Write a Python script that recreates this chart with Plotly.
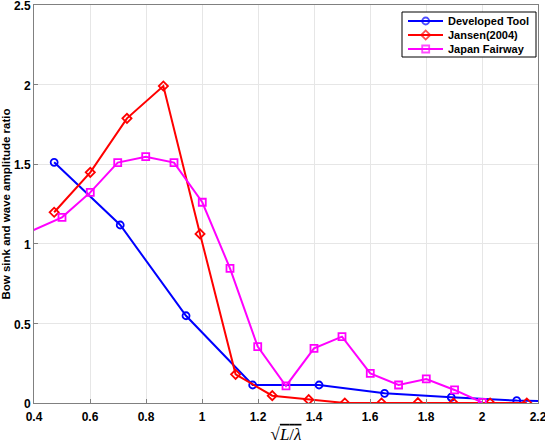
import plotly.graph_objects as go

# Developed Tool
dev_x = [0.472, 0.708, 0.943, 1.181, 1.418, 1.652, 1.890, 2.124, 2.36]
dev_y = [1.512, 1.118, 0.548, 0.113, 0.113, 0.061, 0.036, 0.015, 0.005]

# Jansen(2004)
jan_x = [0.472, 0.601, 0.732, 0.862, 0.993, 1.120, 1.251, 1.381, 1.510, 1.641, 1.771, 1.898, 2.029, 2.160]
jan_y = [1.198, 1.449, 1.788, 1.991, 1.062, 0.180, 0.046, 0.021, 0.0, 0.0, 0.002, 0.0, 0.0, 0.0]

# Japan Fairway
jf_x = [0.30, 0.500, 0.601, 0.699, 0.799, 0.900, 1.001, 1.100, 1.199, 1.300, 1.400, 1.500, 1.601, 1.702, 1.801, 1.902, 2.001]
jf_y = [1.01, 1.166, 1.323, 1.510, 1.547, 1.510, 1.261, 0.846, 0.354, 0.107, 0.343, 0.417, 0.186, 0.113, 0.151, 0.082, 0.003]

series_names = ["Developed Tool", "Jansen(2004)", "Japan Fairway"]
series_colors = ["#0000ff", "#ff0000", "#ff00ff"]
series_symbols = ["circle-open", "diamond-open", "square-open"]

x_ticks = [0.4, 0.6, 0.8, 1.0, 1.2, 1.4, 1.6, 1.8, 2.0, 2.2]
x_labels = ["0.4", "0.6", "0.8", "1", "1.2", "1.4", "1.6", "1.8", "2", "2.2"]
y_ticks = [0, 0.5, 1.0, 1.5, 2.0, 2.5]
y_labels = ["0", "0.5", "1", "1.5", "2", "2.5"]

fig = go.Figure()
for xs, ys, nm, col, sym in zip([dev_x, jan_x, jf_x], [dev_y, jan_y, jf_y],
                                series_names, series_colors, series_symbols):
    fig.add_trace(go.Scatter(x=xs, y=ys, name=nm, mode="lines+markers", showlegend=False,
                             line=dict(color=col, width=2),
                             marker=dict(symbol=sym, size=7, color=col, line=dict(width=1.8))))

# Legend box drawn on an overlay axis measured in pixels of the plot area
LX0, LX1, LY0, LY1 = 402, 536, 12, 57
fig.add_trace(go.Scatter(x=[LX0, LX1, LX1, LX0, LX0], y=[LY0, LY0, LY1, LY1, LY0],
                         xaxis="x2", yaxis="y2", mode="lines", fill="toself",
                         fillcolor="white", line=dict(color="black", width=1),
                         showlegend=False, hoverinfo="skip"))
row_y = [21, 35, 49]
for ry, nm, col, sym in zip(row_y, series_names, series_colors, series_symbols):
    fig.add_trace(go.Scatter(x=[408, 425.7, 443], y=[ry, ry, ry], xaxis="x2", yaxis="y2",
                             mode="lines+markers", showlegend=False, hoverinfo="skip",
                             line=dict(color=col, width=2),
                             marker=dict(symbol=sym, size=[0, 7, 0], color=col, line=dict(width=1.8))))
    fig.add_annotation(x=446, y=ry, xref="x2", yref="y2", text="<b>%s</b>" % nm,
                       showarrow=False, xanchor="left", yanchor="middle",
                       font=dict(size=11, family="Liberation Sans, Arial, sans-serif", color="black"))

fig.update_layout(
    width=545, height=444,
    margin=dict(l=34, r=7, t=5, b=41),
    paper_bgcolor="white", plot_bgcolor="white",
    font=dict(family="Liberation Sans, Arial, sans-serif", size=11, color="black"),
    showlegend=False,
    xaxis=dict(range=[0.4, 2.2], tickvals=x_ticks, ticktext=["<b>%s</b>" % t for t in x_labels],
               showgrid=True, gridcolor="#e6e6e6", gridwidth=1, automargin=False,
               showline=True, linecolor="#808080", linewidth=1, mirror=True,
               ticks="inside", ticklen=4, tickcolor="#808080", zeroline=False,
               tickfont=dict(size=12), ticklabeloverflow="allow", ticklabelstandoff=3,
               title=dict(text="√<span style='text-decoration:overline'><i>L</i>/<i>λ</i></span>",
                          font=dict(family="Liberation Serif, Times New Roman, serif", size=17),
                          standoff=4)),
    yaxis=dict(range=[0, 2.5], tickvals=y_ticks, ticktext=["<b>%s</b>" % t for t in y_labels],
               showgrid=True, gridcolor="#e6e6e6", gridwidth=1, automargin=False,
               showline=True, linecolor="#808080", linewidth=1, mirror=True,
               ticks="inside", ticklen=4, tickcolor="#808080", zeroline=False,
               tickfont=dict(size=12), ticklabeloverflow="allow", ticklabelshift=1,
               title=dict(text="<b>Bow sink and wave amplitude ratio</b>",
                          font=dict(size=11.5), standoff=4)),
    xaxis2=dict(overlaying="x", range=[34, 538], visible=False, fixedrange=True, automargin=False),
    yaxis2=dict(overlaying="y", range=[403, 5], visible=False, fixedrange=True, automargin=False),
)

fig.write_html("out.html")
